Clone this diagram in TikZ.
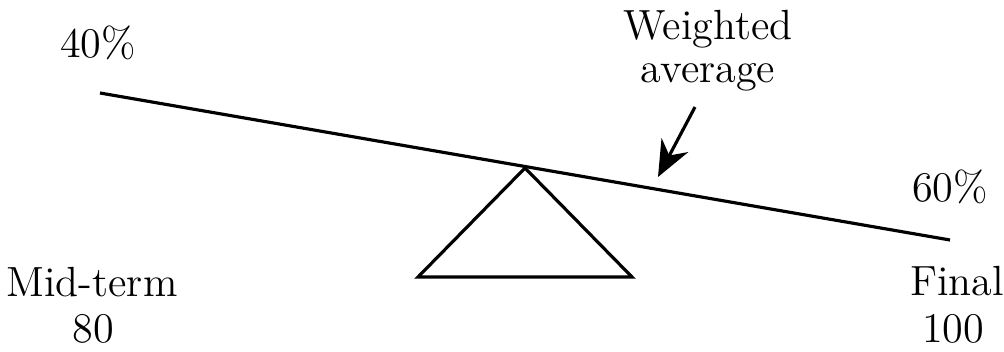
\documentclass[tikz,border=0pt]{standalone}
\usepackage{tikz}
\usetikzlibrary{arrows.meta,positioning}

\begin{document}
\begin{tikzpicture}[x=0.01cm,y=-0.01cm,>=Stealth,
  lbl/.style={anchor=base,inner sep=0pt,font=\fontsize{12}{14}\selectfont},
  beam/.style={line width=0.9pt},
  arr/.style={line width=0.9pt,-{Stealth[length=3.6mm,width=3mm]}}]
\useasboundingbox (0,0) rectangle (1004,352);
% seesaw
\coordinate (bl) at (100,93);
\coordinate (br) at (950,240);
\draw[beam] (bl) -- (br);
\draw[beam,line join=miter] (525,168) -- (632,277) -- (418,277) -- cycle;
% weights
\node[lbl] (wl) at (98,58) {40\%};
\node[lbl] (wr) at (950,202) {60\%};
\node[lbl] (wavg) at (708,40) {Weighted};
\node[lbl,below=4.2mm of wavg.base,anchor=base] (wavg2) {average};
% arrow to the balance point
\coordinate (tail) at (695,107);
\coordinate (tip) at (658,177);
\draw[arr] (tail) -- (tip);
% scores
\node[lbl] (mid) at (92,297) {Mid-term};
\node[lbl] (mids) at (93,342) {80};
\node[lbl] (fin) at (957,295) {Final};
\node[lbl] (fins) at (953,342) {100};
\end{tikzpicture}
\end{document}
